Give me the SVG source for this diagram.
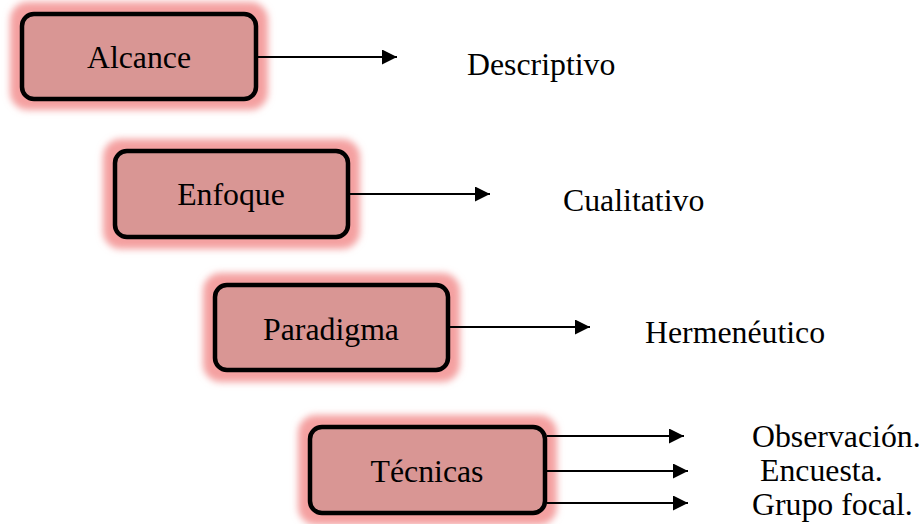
<svg xmlns="http://www.w3.org/2000/svg" width="922" height="524" viewBox="0 0 922 524">
<defs>
<filter id="glow" x="-20%" y="-30%" width="140%" height="160%"><feGaussianBlur stdDeviation="3.5"/></filter>
<marker id="ah" markerUnits="userSpaceOnUse" markerWidth="16" markerHeight="16" refX="15" refY="7.5" orient="auto"><path d="M0,0 L15,7.5 L0,15 Z" fill="#000"/></marker>
</defs>
<style>
.halo{fill:#f4a0a0;filter:url(#glow)}
.box{fill:#d99694;stroke:#000;stroke-width:4.5}
.lbl{font-family:"Liberation Serif","Times New Roman",serif;font-size:31.8px;fill:#000}
.lbl.c{text-anchor:middle}
.con{stroke:#000;stroke-width:2;fill:none;marker-end:url(#ah)}
</style>
<rect width="922" height="524" fill="#fff"/>
<g id="alcance">
<rect class="halo" x="10" y="2" width="258" height="108" rx="18"/>
<rect class="box" x="22" y="14" width="234" height="85" rx="12"/>
<text class="lbl c" x="139" y="68">Alcance</text>
</g>
<g id="enfoque">
<rect class="halo" x="103" y="139" width="257" height="110" rx="18"/>
<rect class="box" x="115" y="151" width="233" height="86" rx="12"/>
<text class="lbl c" x="231" y="205">Enfoque</text>
</g>
<g id="paradigma">
<rect class="halo" x="203" y="273" width="257" height="109" rx="18"/>
<rect class="box" x="215" y="285" width="233" height="85" rx="12"/>
<text class="lbl c" x="331" y="340">Paradigma</text>
</g>
<g id="tecnicas">
<rect class="halo" x="298" y="415" width="259" height="110" rx="18"/>
<rect class="box" x="310" y="427" width="235" height="86" rx="12"/>
<text class="lbl c" x="427" y="482">Técnicas</text>
</g>
<g id="results">
<text class="lbl" x="467" y="75">Descriptivo</text>
<text class="lbl" x="563" y="211">Cualitativo</text>
<text class="lbl" x="645" y="343">Hermenéutico</text>
<text class="lbl" x="752" y="447">Observación.</text>
<text class="lbl" x="760" y="481">Encuesta.</text>
<text class="lbl" x="752" y="515">Grupo focal.</text>
</g>
<g id="connectors">
<line class="con" x1="258" y1="57" x2="397" y2="57"/>
<line class="con" x1="350" y1="194" x2="490" y2="194"/>
<line class="con" x1="450" y1="327" x2="590" y2="327"/>
<line class="con" x1="547" y1="436" x2="684" y2="436"/>
<line class="con" x1="547" y1="471" x2="688" y2="471"/>
<line class="con" x1="547" y1="503" x2="688" y2="503"/>
</g>
</svg>
